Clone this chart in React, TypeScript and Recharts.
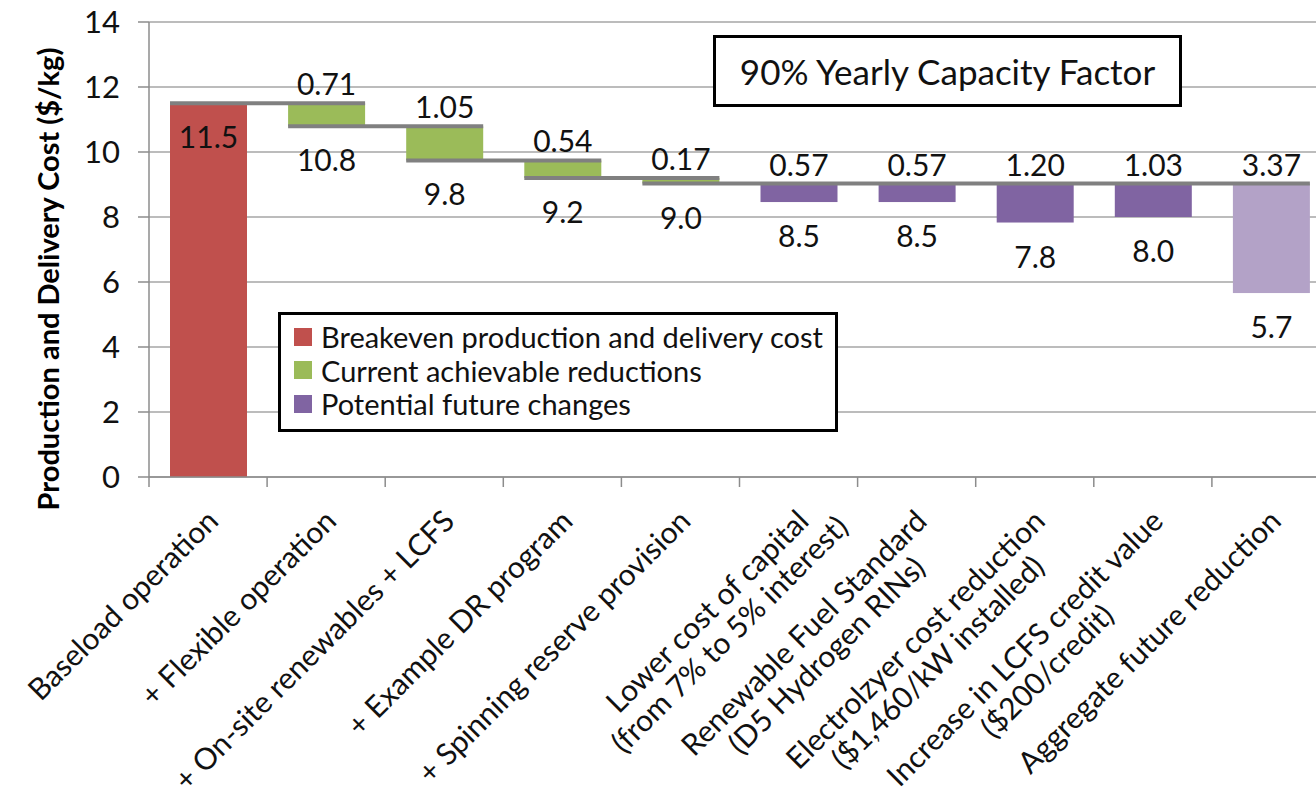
import React from "react";
import { ComposedChart, Bar, XAxis, YAxis, CartesianGrid, LabelList, Label } from "recharts";

const categories = [
  "Baseload operation",
  "+ Flexible operation",
  "+ On-site renewables + LCFS",
  "+ Example DR program",
  "+ Spinning reserve provision",
  "Lower cost of capital\n(from 7% to 5% interest)",
  "Renewable Fuel Standard\n(D5 Hydrogen RINs)",
  "Electrolzyer cost reduction\n($1,460/kW installed)",
  "Increase in LCFS credit value\n($200/credit)",
  "Aggregate future reduction",
];
const steps = [11.5, 0.71, 1.05, 0.54, 0.17, 0.57, 0.57, 1.2, 1.03, 3.37];
const stepKinds = ["base", "current", "current", "current", "current", "future", "future", "future", "future", "aggregate"];
const totals = [11.5, 10.8, 9.8, 9.2, 9.0, 8.5, 8.5, 7.8, 8.0, 5.7];
const yTicks = [0, 2, 4, 6, 8, 10, 12, 14];
const legendItems = [
  { label: "Breakeven production and delivery cost", kind: "base" },
  { label: "Current achievable reductions", kind: "current" },
  { label: "Potential future changes", kind: "future" },
];
const noteText = "90% Yearly Capacity Factor";
const yTitle = "Production and Delivery Cost ($/kg)";

const colors: Record<string, string> = {
  base: "#C0504D",
  current: "#9BBB59",
  future: "#8064A2",
  aggregate: "#B3A2C7",
};

const FONT = "Lato, 'Open Sans', sans-serif";
const CHART_W = 1340;
const CHART_H = 801;
const Y_AXIS_W = 149;
const MARGIN_R = 10;
const X_AXIS_H = 324;
const AXIS_Y = CHART_H - X_AXIS_H;
const BAND = (CHART_W - Y_AXIS_W - MARGIN_R) / categories.length;
const CAT_FONT = 30;
const VAL_FONT = 30;
const LINE_H = 32;
const ANGLE = -45;

// running totals for the floating bars
let running = 0;
const rows = categories.map((name, i) => {
  const kind = stepKinds[i];
  let start = running;
  let end = running - steps[i];
  if (kind === "base") {
    start = 0;
    end = steps[i];
    running = end;
  } else if (kind === "current") {
    running = end;
  }
  return { name, kind, start, end, range: [Math.min(start, end), Math.max(start, end)], step: steps[i], total: totals[i], span: 0 };
});
rows.forEach((r, i) => {
  let span = 0;
  for (let j = i + 1; j < rows.length && Math.abs(rows[j].start - r.end) < 1e-9; j++) span++;
  r.span = span;
});

let ctx: CanvasRenderingContext2D | null = null;
const measure = (t: string) => {
  if (!ctx) ctx = document.createElement("canvas").getContext("2d");
  if (!ctx) return t.length * CAT_FONT * 0.5;
  ctx.font = `${CAT_FONT}px Lato`;
  return ctx.measureText(t).width;
};

const boxOf = (props: any) => {
  const vb = props.viewBox || props;
  const x = vb.x ?? props.x;
  const y = vb.y ?? props.y;
  const w = vb.width ?? props.width;
  const h = vb.height ?? props.height;
  return { x, w, top: Math.min(y, y + h), bottom: Math.max(y, y + h) };
};

const Connector = (props: any) => {
  const r = rows[props.index];
  if (!r || r.span === 0) return null;
  const b = boxOf(props);
  const ly = r.end > r.start ? b.top : b.bottom;
  return <line x1={b.x} x2={b.x + b.w + r.span * BAND} y1={ly} y2={ly} stroke="#808080" strokeWidth={4} />;
};

const StepLabel = (props: any) => {
  const r = rows[props.index];
  if (!r || r.kind === "base") return null;
  const b = boxOf(props);
  return (
    <text x={b.x + b.w / 2} y={b.top - 8} textAnchor="middle" fontSize={VAL_FONT} fill="#111" fontFamily={FONT}>
      {r.step.toFixed(2)}
    </text>
  );
};

const TotalLabel = (props: any) => {
  const r = rows[props.index];
  if (!r) return null;
  const b = boxOf(props);
  const ly = r.end > r.start ? b.top : b.bottom;
  return (
    <text x={b.x + b.w / 2} y={ly + 45} textAnchor="middle" fontSize={VAL_FONT} fill="#111" fontFamily={FONT}>
      {r.total.toFixed(1)}
    </text>
  );
};

const CategoryTick = (props: any) => {
  const { x, payload, index } = props;
  const lines = String(payload.value).split("\n");
  const w1 = measure(lines[0]);
  return (
    <g>
      <line x1={x - BAND / 2} x2={x - BAND / 2} y1={AXIS_Y} y2={AXIS_Y + 10} stroke="#8c8c8c" strokeWidth={1.5} />
      {index === categories.length - 1 && (
        <line x1={x + BAND / 2} x2={x + BAND / 2} y1={AXIS_Y} y2={AXIS_Y + 10} stroke="#8c8c8c" strokeWidth={1.5} />
      )}
      <g transform={`translate(${x + 12},${AXIS_Y + 46}) rotate(${ANGLE})`}>
        {lines.map((t, i) => (
          <text key={i} x={i === 0 ? 0 : -w1 / 2} y={i * LINE_H} textAnchor={i === 0 ? "end" : "middle"} fontSize={CAT_FONT} fill="#111" fontFamily={FONT}>
            {t}
          </text>
        ))}
      </g>
    </g>
  );
};

export default function App() {
  return (
    <div style={{ position: "absolute", left: 0, top: 0, width: 1316, height: 801, overflow: "hidden", background: "#fff", fontFamily: FONT }}>
      <ComposedChart width={CHART_W} height={CHART_H} data={rows} margin={{ top: 22, right: MARGIN_R, bottom: 0, left: 0 }}>
        <CartesianGrid vertical={false} stroke="#a6a6a6" strokeWidth={1.5} />
        <XAxis dataKey="name" interval={0} tickLine={false} axisLine={{ stroke: "#8c8c8c", strokeWidth: 1.5 }} height={X_AXIS_H} tick={<CategoryTick />} />
        <YAxis
          domain={[0, 14]}
          ticks={yTicks}
          width={Y_AXIS_W}
          tickSize={11}
          tickMargin={18}
          axisLine={{ stroke: "#8c8c8c", strokeWidth: 1.5 }}
          tickLine={{ stroke: "#8c8c8c", strokeWidth: 1.5 }}
          tick={{ fontSize: 31, fill: "#111", fontFamily: FONT }}
        >
          <Label
            content={() => (
              <text x={47} y={279} transform="rotate(-90 47 279)" textAnchor="middle" dominantBaseline="central" fontSize={29} fontWeight="bold" fill="#000" fontFamily={FONT}>
                {yTitle}
              </text>
            )}
          />
        </YAxis>
        <Bar dataKey="range" barSize={77} isAnimationActive={false} shape={(p: any) => {
          const b = boxOf(p);
          return <rect x={b.x} y={b.top} width={b.w} height={b.bottom - b.top} fill={colors[p.payload.kind]} />;
        }}>
          <LabelList dataKey="end" content={<Connector />} />
          <LabelList dataKey="step" content={<StepLabel />} />
          <LabelList dataKey="total" content={<TotalLabel />} />
        </Bar>
      </ComposedChart>
      <div style={{ position: "absolute", left: 713, top: 35, width: 463, height: 66, border: "3px solid #000", background: "#fff", display: "flex", alignItems: "center", justifyContent: "center", fontSize: 35, color: "#111", whiteSpace: "nowrap" }}>
        {noteText}
      </div>
      <div style={{ position: "absolute", left: 278, top: 312, width: 554, height: 114, border: "3px solid #000", background: "#fff", boxSizing: "content-box" }}>
        {legendItems.map((it, i) => (
          <div key={i} style={{ position: "absolute", left: 13, top: 5 + i * 33.5, height: 33, display: "flex", alignItems: "center", fontSize: 29, color: "#111", whiteSpace: "nowrap" }}>
            <span style={{ width: 18, height: 18, background: colors[it.kind], marginRight: 9, display: "inline-block", flex: "none" }} />
            {it.label}
          </div>
        ))}
      </div>
    </div>
  );
}
